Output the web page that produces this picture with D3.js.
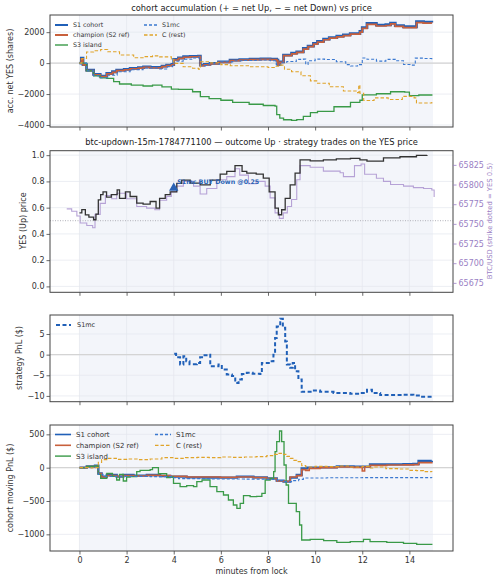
<!DOCTYPE html>
<html>
<head>
<meta charset="utf-8">
<script src="https://cdn.jsdelivr.net/npm/d3@7"></script>
<style>
  body { margin: 0; background: #fff; }
  text { font-family: "DejaVu Sans", sans-serif; }
</style>
</head>
<body>
<div id="wrapper"></div>
<script>
// values: [minutes from lock, value]
var accS1 = [[0,0],[0.08,320],[0.15,-100],[0.3,-450],[0.6,-730],[0.88,-840],[1.16,-670],[1.4,-560],[1.58,-450],[1.9,-400],[2.15,-340],[2.5,-290],[2.72,-240],[3.0,-270],[3.28,-280],[3.5,-200],[3.7,-130],[3.92,-90],[4.0,240],[4.2,330],[4.42,410],[4.7,440],[5.05,450],[5.13,-130],[5.3,-80],[5.54,-20],[5.9,80],[6.39,190],[6.8,230],[7.24,260],[7.7,270],[8.09,260],[8.37,190],[8.42,-90],[8.5,80],[8.66,520],[9.0,640],[9.22,730],[9.5,950],[9.7,1100],[9.93,1270],[10.1,1400],[10.36,1550],[10.6,1650],[10.92,1740],[11.2,1820],[11.49,1910],[11.9,2050],[12.0,2300],[12.2,2560],[12.6,2450],[13.0,2480],[13.2,2580],[13.4,2420],[13.75,2350],[14.17,2350],[14.3,2680],[14.6,2640],[14.95,2620]]
var accChamp = [[0,0],[0.08,280],[0.15,-120],[0.3,-480],[0.6,-760],[0.88,-880],[1.16,-700],[1.4,-600],[1.58,-490],[1.9,-430],[2.15,-370],[2.5,-320],[2.72,-270],[3.0,-300],[3.28,-310],[3.5,-230],[3.7,-160],[3.92,-120],[4.0,200],[4.2,300],[4.42,380],[4.7,410],[5.05,420],[5.13,-160],[5.3,-110],[5.54,-50],[5.9,50],[6.39,160],[6.8,200],[7.24,230],[7.7,240],[8.09,230],[8.37,160],[8.42,-120],[8.5,50],[8.66,490],[9.0,600],[9.22,690],[9.5,910],[9.7,1060],[9.93,1230],[10.1,1360],[10.36,1510],[10.6,1610],[10.92,1700],[11.2,1780],[11.49,1870],[11.9,2000],[12.0,2250],[12.2,2510],[12.6,2400],[13.0,2430],[13.2,2530],[13.4,2370],[13.75,2300],[14.17,2300],[14.3,2620],[14.6,2590],[14.95,2570]]
var accIsland = [[0,0],[0.3,-500],[0.6,-820],[0.88,-950],[1.16,-990],[1.45,-1200],[1.7,-1350],[2.2,-1420],[2.7,-1480],[3.1,-1420],[3.5,-1530],[3.9,-1680],[4.2,-1700],[4.8,-1850],[5.13,-2170],[5.5,-2300],[6.0,-2400],[6.5,-2540],[7.2,-2660],[7.8,-2740],[8.3,-2780],[8.37,-3330],[8.5,-3550],[8.66,-3660],[9.0,-3700],[9.22,-3650],[9.5,-3440],[9.8,-3200],[10.1,-3120],[10.8,-2820],[11.5,-2540],[11.9,-2400],[12.0,-2050],[12.6,-1980],[13.2,-1850],[13.8,-1880],[14.0,-2100],[14.4,-2060],[14.95,-2110]]
var accS1mc = [[0,0],[0.3,-500],[0.6,-820],[0.9,-950],[1.2,-780],[1.6,-560],[2.15,-420],[2.7,-320],[3.3,-380],[3.7,-230],[3.95,-150],[4.0,120],[4.4,250],[4.8,330],[5.05,380],[5.13,-150],[5.5,-50],[6.0,80],[6.5,150],[7.0,170],[7.5,200],[8.1,150],[8.35,-80],[8.5,-120],[8.6,60],[8.8,100],[9.2,240],[9.5,260],[9.6,-80],[9.7,150],[10.0,260],[10.4,230],[10.9,90],[11.3,-100],[11.5,-190],[11.8,-100],[12.0,330],[12.2,250],[12.6,130],[13.0,240],[13.4,150],[13.75,-90],[14.1,-130],[14.25,320],[14.6,300],[14.95,250]]
var accRest = [[0,0],[0.1,300],[0.3,720],[0.6,800],[0.9,880],[1.2,730],[1.7,520],[2.3,350],[2.7,420],[3.1,470],[3.4,400],[3.9,260],[4.0,-20],[4.4,-240],[4.8,-330],[5.05,-390],[5.13,90],[5.5,20],[6.0,-100],[6.4,-170],[7.2,-240],[8.0,-280],[8.3,-200],[8.45,-130],[8.7,-400],[9.0,-560],[9.4,-820],[9.8,-1150],[10.1,-1300],[10.6,-1530],[11.2,-1800],[11.8,-1920],[11.85,-1420],[11.9,-1950],[12.06,-2420],[12.5,-2250],[13.1,-2350],[13.7,-2150],[14.2,-2250],[14.3,-2580],[14.95,-2520]]

var yesPrice = [[0,0.56],[0.1,0.585],[0.25,0.545],[0.4,0.528],[0.6,0.508],[0.7,0.55],[0.8,0.66],[0.9,0.7],[1.0,0.72],[1.15,0.68],[1.35,0.70],[1.6,0.735],[1.7,0.67],[1.95,0.72],[2.15,0.685],[2.43,0.635],[2.7,0.627],[3.0,0.647],[3.25,0.596],[3.4,0.67],[3.64,0.70],[3.85,0.72],[4.13,0.785],[4.34,0.81],[4.7,0.787],[5.12,0.774],[5.55,0.81],[5.97,0.855],[6.25,0.876],[6.6,0.92],[6.9,0.876],[7.1,0.863],[7.5,0.855],[7.8,0.825],[8.05,0.72],[8.3,0.596],[8.44,0.546],[8.58,0.584],[8.73,0.67],[8.94,0.774],[9.15,0.863],[9.36,0.964],[9.79,0.957],[10.35,0.964],[10.9,0.972],[11.5,0.975],[11.9,0.964],[12.2,0.955],[12.9,0.98],[13.6,0.988],[14.3,0.998],[14.75,1.0]]
var btcPrice = [[-0.54,65769],[-0.33,65766],[-0.11,65760],[0.03,65751],[0.31,65748],[0.56,65745],[0.66,65762],[0.88,65776],[1.1,65786],[1.37,65782],[1.58,65789],[2.0,65782],[2.43,65772],[2.85,65770],[3.2,65768],[3.4,65780],[3.7,65785],[3.9,65791],[4.13,65798],[4.41,65804],[4.84,65798],[5.12,65788],[5.4,65795],[5.83,65806],[6.25,65810],[6.6,65820],[6.8,65812],[7.17,65801],[7.5,65804],[7.88,65798],[8.09,65783],[8.3,65764],[8.48,65757],[8.65,65764],[8.82,65772],[9.0,65781],[9.22,65806],[9.36,65824],[9.79,65822],[10.35,65817],[11.06,65815],[11.2,65810],[11.6,65810],[11.67,65824],[11.95,65826],[12.1,65813],[12.6,65808],[12.9,65804],[13.2,65800],[13.75,65798],[14.17,65796],[14.6,65795],[14.95,65793],[15.05,65784]]
var strike = 65754
var tradeMarks = [{t: 4.0, price: 0.75, label: "S1mc BUY Down @0.25"}]

var pnlS1mc = [[4.02,0.2],[4.1,-0.65],[4.27,-2.4],[4.41,-0.4],[4.53,-1.6],[4.67,-2.3],[4.98,-2.0],[5.12,-0.65],[5.26,-0.16],[5.48,0],[5.55,-2.8],[5.9,-2.4],[6.04,-3.6],[6.25,-4.8],[6.47,-5.2],[6.61,-6.85],[6.75,-6.0],[6.89,-4.7],[7.1,-4.4],[7.35,-4.6],[7.67,-4.7],[7.74,-2.0],[8.09,-1.6],[8.23,0],[8.3,4.0],[8.37,6.8],[8.52,8.7],[8.63,6.5],[8.73,3.2],[8.8,-2.4],[8.94,-3.2],[9.05,-2.0],[9.15,-4.0],[9.29,-6.0],[9.43,-9.0],[9.86,-8.7],[10.21,-9.0],[10.78,-9.3],[11.49,-9.5],[11.91,-9.3],[12.2,-8.5],[12.41,-9.3],[12.76,-9.8],[13.75,-9.7],[14.17,-9.9],[14.45,-10.2],[14.95,-10.2]]

var movS1 = [[0,0],[0.31,20],[0.66,30],[0.8,-85],[0.94,-135],[1.16,-110],[1.58,-135],[1.86,-110],[2.29,-120],[2.86,-110],[3.42,-125],[3.85,-135],[4.55,-145],[5.26,-148],[5.97,-150],[6.68,-135],[7.38,-145],[7.95,-160],[8.37,-195],[8.66,-210],[8.94,-150],[9.22,-110],[9.43,-10],[9.65,0],[10.21,5],[10.92,20],[11.63,15],[12.05,15],[12.33,50],[13.04,50],[13.75,52],[14.17,55],[14.39,100],[14.95,105]]
var movChamp = [[0,0],[0.31,15],[0.66,25],[0.8,-90],[0.94,-140],[1.16,-120],[1.58,-130],[1.86,-120],[2.29,-125],[2.86,-115],[3.42,-120],[3.85,-130],[4.55,-140],[5.26,-140],[5.97,-145],[6.68,-140],[7.38,-150],[7.95,-165],[8.37,-200],[8.66,-205],[8.94,-140],[9.22,-120],[9.43,-30],[9.6,-40],[9.75,-10],[10.21,0],[10.92,10],[11.63,5],[12.0,-50],[12.1,10],[12.33,35],[13.04,40],[13.75,42],[14.17,45],[14.39,75],[14.95,85]]
var movIsland = [[0,0],[0.31,20],[0.66,25],[0.8,-100],[0.9,-160],[1.16,-85],[1.4,-130],[1.58,-185],[1.7,-100],[1.86,-200],[2.0,-140],[2.15,-135],[2.43,-60],[2.57,-40],[3.0,-30],[3.1,0],[3.3,0],[3.35,-90],[3.7,-150],[3.85,-140],[3.99,-235],[4.27,-285],[4.55,-270],[4.84,-285],[4.98,-210],[5.2,-185],[5.4,-185],[5.54,-285],[5.83,-360],[6.11,-410],[6.32,-485],[6.53,-560],[6.68,-610],[6.82,-535],[6.96,-420],[7.24,-435],[7.52,-430],[7.74,-385],[7.88,-185],[8.09,-160],[8.24,-60],[8.3,240],[8.37,390],[8.49,550],[8.58,390],[8.68,40],[8.77,-260],[8.87,-535],[9.08,-535],[9.2,-660],[9.34,-860],[9.43,-1085],[9.79,-1075],[10.36,-1095],[10.92,-1120],[11.49,-1110],[12.05,-1075],[12.33,-1110],[13.04,-1120],[13.75,-1135],[14.31,-1150],[14.95,-1160]]
var movS1mc = [[0,0],[0.66,10],[0.8,-100],[1.0,-130],[2.0,-130],[3.0,-135],[3.9,-150],[4.2,-165],[5.5,-170],[7.0,-172],[8.0,-175],[8.4,-195],[8.66,-210],[9.0,-195],[9.3,-175],[9.5,-155],[10.5,-152],[12.0,-150],[13.5,-150],[14.95,-152]]
var movRest = [[0,0],[0.5,-5],[0.66,0],[0.8,80],[0.94,120],[1.2,140],[1.6,125],[2.0,130],[2.5,120],[3.0,130],[3.5,150],[4.0,140],[4.5,150],[5.0,155],[5.5,150],[6.0,160],[6.5,155],[7.0,160],[7.5,165],[7.95,180],[8.2,200],[8.4,215],[8.6,200],[8.8,170],[8.94,140],[9.1,110],[9.22,90],[9.43,30],[9.6,10],[10.0,20],[10.5,15],[11.0,25],[11.5,10],[12.0,20],[12.3,-5],[12.5,10],[13.0,-15],[13.5,-20],[14.0,-40],[14.3,-45],[14.6,-60],[14.95,-65]]

var xTicks = [0, 2, 4, 6, 8, 10, 12, 14]
var lockSpan = [0, 15]

var C_S1 = "#2060b8", C_CH = "#c8603c", C_IS = "#3a9a48", C_MC = "#3a78d0", C_RE = "#e0a42a"
var C_BTC = "#b6a2d6", C_BTC_TXT = "#9a80c4"

const svg = d3.select("#wrapper").append("svg")
    .attr("width", 500).attr("height", 582)

const x = d3.scaleLinear().domain([-1.25, 15.85]).range([50, 453])

function makePanel(top, bottom, yDomain, yTicks, yFmt, showX) {
    const y = d3.scaleLinear().domain(yDomain).range([bottom, top])
    const g = svg.append("g")

    g.append("rect").attr("x", 50).attr("y", top).attr("width", 403).attr("height", bottom - top).attr("fill", "#fff")
    g.append("rect").attr("x", x(lockSpan[0])).attr("y", top)
        .attr("width", x(lockSpan[1]) - x(lockSpan[0])).attr("height", bottom - top)
        .attr("fill", "#f3f5fa")

    g.selectAll(".vg").data(xTicks).enter().append("line")
        .attr("x1", d => x(d)).attr("x2", d => x(d)).attr("y1", top).attr("y2", bottom)
        .style("stroke", "#e4e6ee").style("stroke-width", 0.7)
    g.selectAll(".hg").data(yTicks).enter().append("line")
        .attr("x1", 50).attr("x2", 453).attr("y1", d => y(d)).attr("y2", d => y(d))
        .style("stroke", "#e4e6ee").style("stroke-width", 0.7)

    const ya = g.append("g").attr("transform", "translate(50,0)")
        .call(d3.axisLeft(y).tickValues(yTicks).tickFormat(yFmt).tickSize(3.5).tickPadding(2))
    const xa = g.append("g").attr("transform", `translate(0,${bottom})`)
        .call(d3.axisBottom(x).tickValues(xTicks).tickSize(3.5).tickPadding(2.5)
            .tickFormat(showX ? d3.format("d") : ""))
    ;[ya, xa].forEach(a => {
        a.select(".domain").remove()
        a.selectAll("line").style("stroke", "#444").style("stroke-width", 0.8)
        a.selectAll("text").style("font-size", "8px").style("fill", "#333")
            .style("font-family", "DejaVu Sans")
    })

    const plot = g.append("g")
    const frame = () => g.append("rect").attr("x", 50).attr("y", top).attr("width", 403)
        .attr("height", bottom - top).attr("fill", "none")
        .style("stroke", "#444").style("stroke-width", 1)
    return {y, g, plot, frame, top, bottom}
}

function drawLine(p, data, color, width, dash, yScale) {
    const ys = yScale || p.y
    p.plot.append("path").datum(data)
        .attr("d", d3.line().x(d => x(d[0])).y(d => ys(d[1])).curve(d3.curveStepAfter))
        .style("fill", "none").style("stroke", color).style("stroke-width", width)
        .style("stroke-dasharray", dash || null)
}

function zeroLine(p) {
    p.plot.append("line").attr("x1", 50).attr("x2", 453).attr("y1", p.y(0)).attr("y2", p.y(0))
        .style("stroke", "#d4d4d4").style("stroke-width", 1.2)
}

function legend(p, items, x0, y0, colW, rowH, fs, lineLen) {
    const lg = p.g.append("g")
    items.forEach((it, i) => {
        const col = Math.floor(i / 3), row = i % 3
        const lx = x0 + col * colW, ly = y0 + row * rowH
        lg.append("line").attr("x1", lx).attr("x2", lx + lineLen).attr("y1", ly).attr("y2", ly)
            .style("stroke", it.color).style("stroke-width", it.w).style("stroke-dasharray", it.dash || null)
        lg.append("text").attr("x", lx + lineLen + 5).attr("y", ly).attr("dy", "0.35em")
            .style("font-size", fs + "px").style("fill", "#333").text(it.name)
    })
}

function yLabel(text, cx, cy, color, fs) {
    svg.append("text").attr("transform", `translate(${cx},${cy}) rotate(-90)`)
        .attr("text-anchor", "middle").attr("dy", "0.35em")
        .style("font-size", (fs || 8) + "px").style("fill", color || "#333").text(text)
}

function title(text, y) {
    svg.append("text").attr("x", 251.5).attr("y", y).attr("text-anchor", "middle")
        .style("font-size", "8.3px").style("fill", "#222").text(text)
}

// panel 1: accumulation
const p1 = makePanel(15, 127, [-4130, 3110], [-4000, -2000, 0, 2000], d3.format("d"), false)
zeroLine(p1)
drawLine(p1, accS1, C_S1, 2.8)
drawLine(p1, accChamp, C_CH, 1.7)
drawLine(p1, accIsland, C_IS, 1.3)
drawLine(p1, accS1mc, C_MC, 1.1, "3,2")
drawLine(p1, accRest, C_RE, 1.1, "3.5,2")
p1.frame()
legend(p1, [
    {name: "S1 cohort", color: C_S1, w: 2},
    {name: "champion (S2 ref)", color: C_CH, w: 2},
    {name: "S3 island", color: C_IS, w: 1.4},
    {name: "S1mc", color: C_MC, w: 1.3, dash: "3,2"},
    {name: "C (rest)", color: C_RE, w: 1.3, dash: "3.5,2"}
], 55, 25, 89, 10, 6.3, 13)
title("cohort accumulation (+ = net Up, \u2212 = net Down) vs price", 11)
yLabel("acc. net YES (shares)", 10, 71)

// panel 2: YES price + BTC
const p2 = makePanel(150.7, 292.3, [-0.045, 1.034], [0, 0.2, 0.4, 0.6, 0.8, 1.0], d3.format(".1f"), false)
const yBtc = d3.scaleLinear().domain([65663, 65843]).range([292.3, 150.7])
drawLine(p2, btcPrice, C_BTC, 1.1, null, yBtc)
p2.plot.append("line").attr("x1", 50).attr("x2", 453).attr("y1", yBtc(strike)).attr("y2", yBtc(strike))
    .style("stroke", "#b0b0b8").style("stroke-width", 1).style("stroke-dasharray", "1,1.5")
drawLine(p2, yesPrice, "#333", 1.3)
p2.plot.selectAll(".tm").data(tradeMarks).enter().append("path")
    .attr("d", d3.symbol().type(d3.symbolTriangle).size(38))
    .attr("transform", d => `translate(${x(d.t)},${p2.y(d.price)})`)
    .style("fill", "#2a62b4")
p2.plot.selectAll(".tl").data(tradeMarks).enter().append("text")
    .attr("x", d => x(d.t) + 3.5).attr("y", d => p2.y(d.price) - 4)
    .style("font-size", "6.3px").style("font-weight", "bold").style("fill", "#2a62b4")
    .text(d => d.label)
p2.frame()
const ra = p2.g.append("g").attr("transform", "translate(453,0)")
    .call(d3.axisRight(yBtc).tickValues([65675, 65700, 65725, 65750, 65775, 65800, 65825])
        .tickFormat(d3.format("d")).tickSize(3.5).tickPadding(2))
ra.select(".domain").remove()
ra.selectAll("line").style("stroke", C_BTC_TXT).style("stroke-width", 0.8)
ra.selectAll("text").style("font-size", "8px").style("fill", C_BTC_TXT)
title("btc-updown-15m-1784771100 \u2014 outcome Up \u00b7 strategy trades on the YES price", 145)
yLabel("YES (Up) price", 23, 221)
yLabel("BTC/USD (strike dotted = YES 0.5)", 490, 221, C_BTC_TXT, 6.8)

// panel 3: strategy PnL
const p3 = makePanel(315, 401.7, [-11.4, 9.6], [-10, -5, 0, 5], d3.format("d"), false)
zeroLine(p3)
drawLine(p3, pnlS1mc, "#2060b8", 2, "4,2.5")
p3.frame()
p3.g.append("line").attr("x1", 56).attr("x2", 71).attr("y1", 325).attr("y2", 325)
    .style("stroke", "#2060b8").style("stroke-width", 2).style("stroke-dasharray", "4,2.5")
p3.g.append("text").attr("x", 77).attr("y", 325).attr("dy", "0.35em")
    .style("font-size", "6.5px").style("fill", "#333").text("S1mc")
yLabel("strategy PnL ($)", 19, 358)

// panel 4: cohort moving PnL
const p4 = makePanel(425, 551, [-1250, 640], [-1000, -500, 0, 500], d3.format("d"), true)
zeroLine(p4)
drawLine(p4, movS1, C_S1, 2.4)
drawLine(p4, movChamp, C_CH, 1.6)
drawLine(p4, movIsland, C_IS, 1.3)
drawLine(p4, movS1mc, C_MC, 1.1, "3,2")
drawLine(p4, movRest, C_RE, 1.1, "3.5,2")
p4.frame()
legend(p4, [
    {name: "S1 cohort", color: C_S1, w: 1.6},
    {name: "champion (S2 ref)", color: C_CH, w: 1.6},
    {name: "S3 island", color: C_IS, w: 1.4},
    {name: "S1mc", color: C_MC, w: 1.3, dash: "3,2"},
    {name: "C (rest)", color: C_RE, w: 1.3, dash: "3.5,2"}
], 55, 434.5, 100, 10.8, 7, 16)
yLabel("cohort moving PnL ($)", 10, 488)
svg.append("text").attr("x", 251.5).attr("y", 574).attr("text-anchor", "middle")
    .style("font-size", "8px").style("fill", "#333").text("minutes from lock")
</script>
</body>
</html>
